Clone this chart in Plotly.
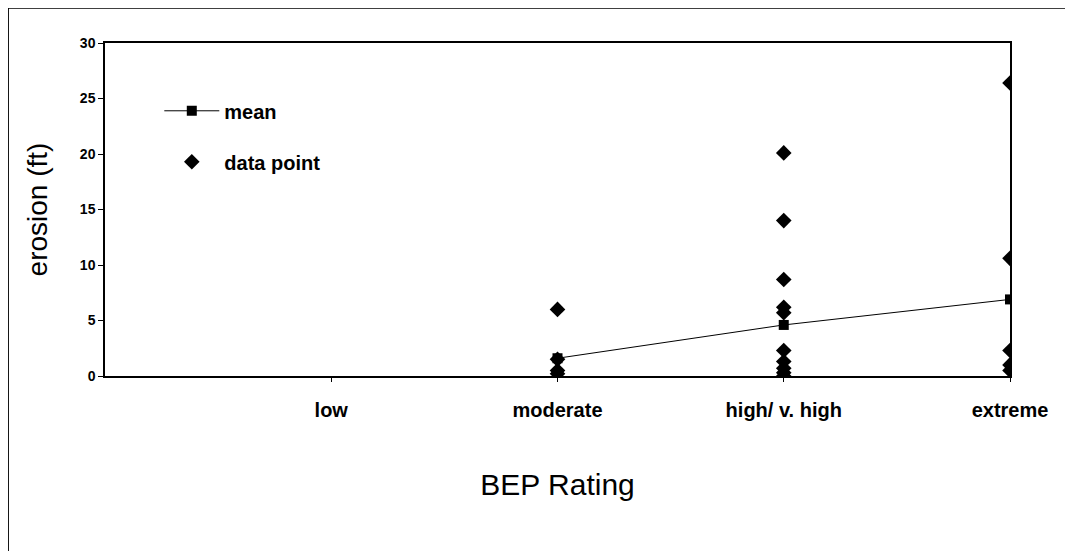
import plotly.graph_objects as go

categories = ["low", "moderate", "high/ v. high", "extreme"]
cat_pos = [1, 2, 3, 4]

# data points per category (ft)
moderate_pts = [6.0, 1.5, 0.5, 0.2]
high_pts = [20.1, 14.0, 8.7, 6.2, 5.7, 2.3, 1.3, 0.7, 0.3, 0.0]
extreme_pts = [26.4, 10.6, 2.3, 1.0, 0.5]

# means per category (moderate, high, extreme)
mean_cats = ["moderate", "high/ v. high", "extreme"]
mean_vals = [1.6, 4.6, 6.9]

pos = dict(zip(categories, cat_pos))

pts_x = ([pos["moderate"]] * len(moderate_pts) + [pos["high/ v. high"]] * len(high_pts)
         + [pos["extreme"]] * len(extreme_pts))
pts_y = moderate_pts + high_pts + extreme_pts

font = "Liberation Sans, Arial, sans-serif"

fig = go.Figure()
fig.add_trace(go.Scatter(
    x=[pos[c] for c in mean_cats], y=mean_vals, mode="lines+markers", name="mean",
    line=dict(color="black", width=1),
    marker=dict(symbol="square", size=10, color="black"),
    legendgroup="a",
))
fig.add_trace(go.Scatter(
    x=pts_x, y=pts_y, mode="markers", name="data point",
    marker=dict(symbol="diamond", size=12, color="black"),
    legendgroup="b",
))

fig.update_layout(
    width=1073, height=551,
    margin=dict(l=97, r=71, t=35, b=183),
    paper_bgcolor="white", plot_bgcolor="white",
    font=dict(family=font, color="black"),
    showlegend=True,
    legend=dict(x=0.06, y=0.855, xanchor="left", yanchor="top",
                bgcolor="rgba(0,0,0,0)", traceorder="grouped", tracegroupgap=22,
                font=dict(size=20, family=font, weight="bold"), itemwidth=55),
    xaxis=dict(range=[0, 4], tickvals=cat_pos, ticktext=categories,
               showgrid=False, zeroline=False, showline=True, linecolor="black",
               linewidth=1.5, mirror=True, ticks="outside", ticklen=4,
               tickcolor="black", ticklabelstandoff=11,
               tickfont=dict(size=20, family=font, weight="bold"),
               title=dict(text="BEP Rating", font=dict(size=30, family=font), standoff=54)),
    yaxis=dict(range=[0, 30], tickvals=[0, 5, 10, 15, 20, 25, 30],
               showgrid=False, zeroline=False, showline=True, linecolor="black",
               linewidth=1.5, mirror=True, ticks="outside", ticklen=5,
               tickcolor="black",
               tickfont=dict(size=14, family=font, weight="bold"),
               title=dict(text="erosion (ft)", font=dict(size=28, family=font), standoff=24)),
    shapes=[
        dict(type="line", xref="paper", yref="paper", x0=-0.107, x1=1.2, y0=1.105, y1=1.105,
             line=dict(color="black", width=1.5)),
        dict(type="line", xref="paper", yref="paper", x0=-0.107, x1=-0.107, y0=1.105, y1=-0.6,
             line=dict(color="black", width=1.5)),
    ],
)

fig.write_html("out.html")
